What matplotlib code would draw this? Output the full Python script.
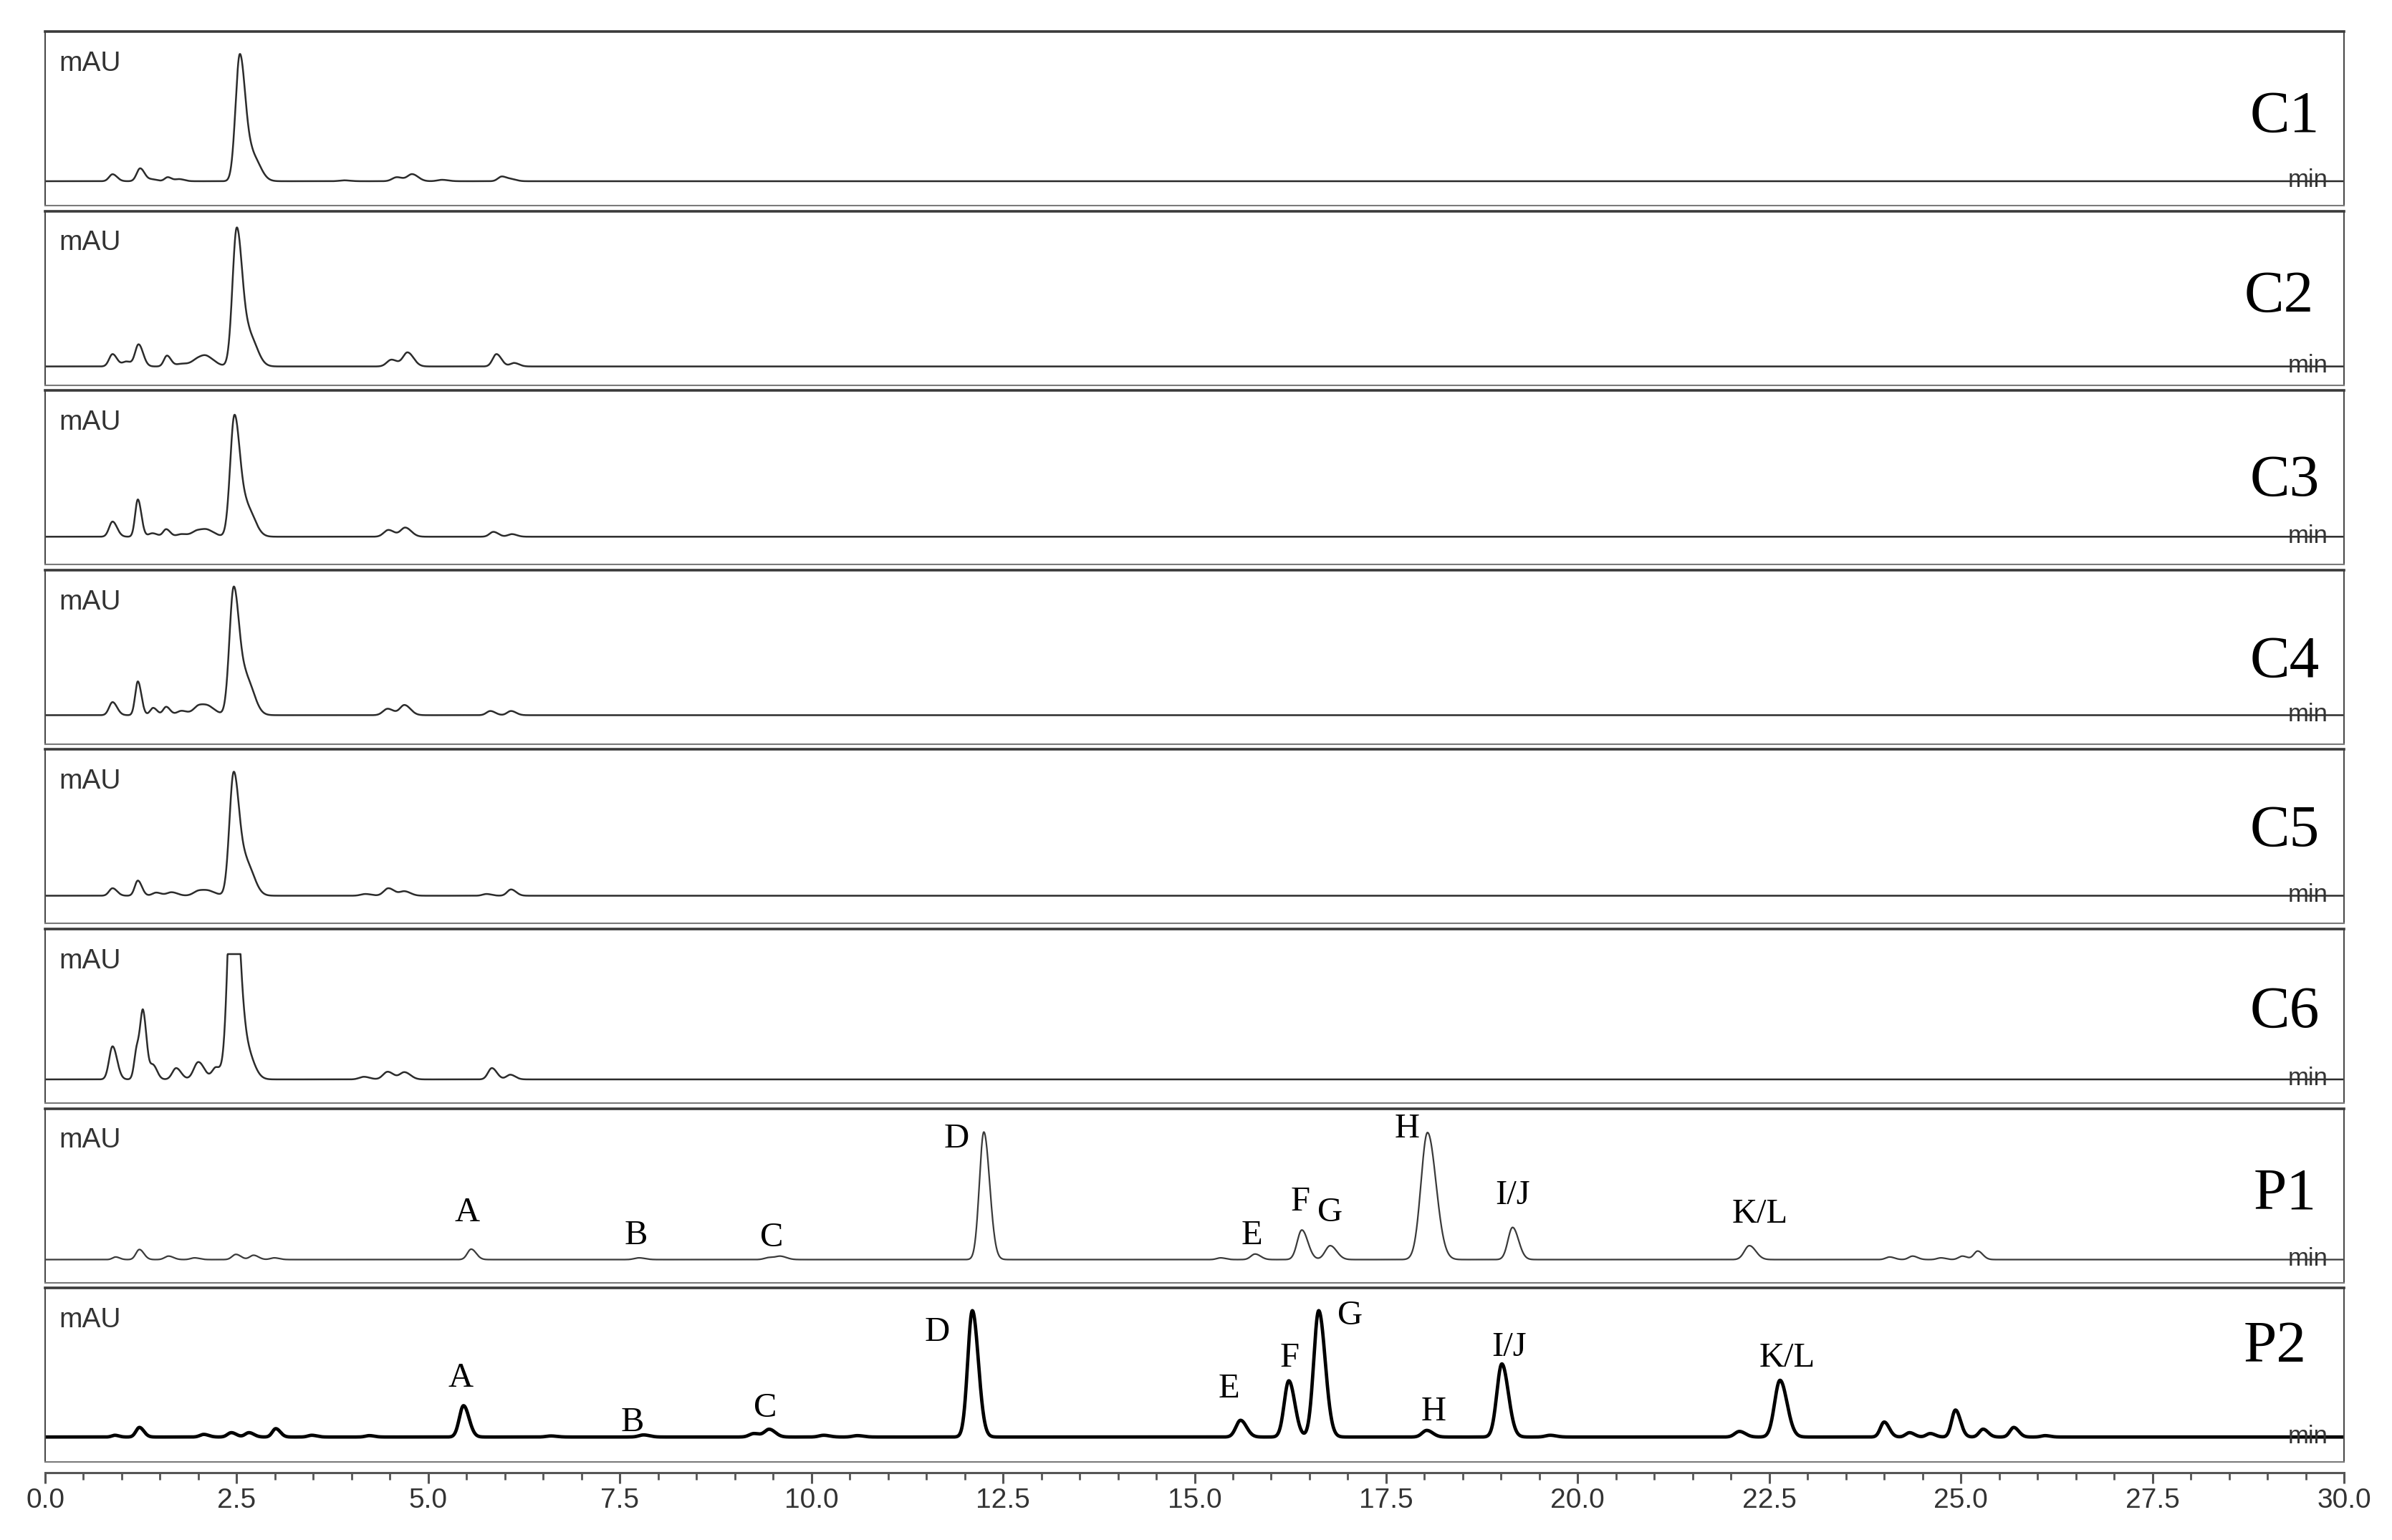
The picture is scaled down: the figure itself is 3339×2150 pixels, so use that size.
import matplotlib.pyplot as plt
import numpy as np
from matplotlib.ticker import FormatStrFormatter, MultipleLocator

# --- data (retention time in min, height in % of panel) ---
samples = ["C1", "C2", "C3", "C4", "C5", "C6", "P1", "P2"]
baselines = [14.0, 10.7, 16.0, 16.6, 16.0, 13.6, 13.2, 14.4]
saturation = [100, 100, 100, 100, 100, 72, 100, 100]

c1_rt = [0.88, 1.24, 1.40, 1.60, 1.75, 2.54, 2.71, 3.90, 4.59, 4.79, 5.18, 5.96, 6.09]
c1_height = [4.0, 7.4, 1.0, 2.3, 1.2, 72.0, 14.0, 0.5, 2.3, 4.0, 0.8, 2.7, 1.0]
c1_width = [0.045, 0.045, 0.05, 0.04, 0.05, 0.055, 0.075, 0.06, 0.06, 0.06, 0.06, 0.05, 0.05]

c2_rt = [0.88, 1.06, 1.22, 1.59, 1.78, 2.00, 2.12, 2.50, 2.67, 4.52, 4.73, 5.89, 6.12]
c2_height = [7.1, 2.8, 12.6, 6.2, 1.5, 4.0, 4.0, 78.5, 17.0, 3.9, 8.0, 7.1, 2.0]
c2_width = [0.045, 0.05, 0.045, 0.04, 0.07, 0.08, 0.08, 0.055, 0.075, 0.06, 0.06, 0.05, 0.05]

c3_rt = [0.88, 1.21, 1.40, 1.58, 1.78, 1.99, 2.13, 2.47, 2.64, 4.48, 4.70, 5.85, 6.09]
c3_height = [8.7, 21.4, 2.0, 4.3, 1.5, 3.5, 3.0, 68.8, 16.0, 3.9, 5.2, 2.8, 1.5]
c3_width = [0.045, 0.035, 0.05, 0.04, 0.06, 0.07, 0.07, 0.055, 0.075, 0.06, 0.06, 0.05, 0.05]

c4_rt = [0.88, 1.21, 1.41, 1.58, 1.78, 2.01, 2.15, 2.46, 2.63, 4.47, 4.69, 5.81, 6.08]
c4_height = [7.5, 19.4, 4.2, 4.8, 2.5, 5.5, 3.5, 72.3, 20.0, 3.7, 5.8, 2.4, 2.4]
c4_width = [0.045, 0.035, 0.04, 0.04, 0.06, 0.07, 0.07, 0.055, 0.075, 0.06, 0.06, 0.05, 0.05]

c5_rt = [0.88, 1.21, 1.45, 1.65, 2.01, 2.15, 2.46, 2.63, 4.18, 4.48, 4.69, 5.76, 6.08]
c5_height = [4.3, 8.7, 1.8, 2.0, 2.9, 2.0, 69.8, 18.0, 1.0, 4.3, 2.5, 1.0, 3.6]
c5_width = [0.045, 0.04, 0.05, 0.06, 0.07, 0.07, 0.055, 0.075, 0.06, 0.06, 0.06, 0.05, 0.05]

c6_rt = [0.88, 1.20, 1.28, 1.41, 1.71, 2.00, 2.23, 2.45, 2.62, 4.16, 4.47, 4.69, 5.83, 6.07]
c6_height = [19.0, 18.0, 36.0, 8.0, 6.5, 10.0, 6.8, 140.0, 17.0, 1.5, 4.4, 4.1, 6.5, 2.7]
c6_width = [0.045, 0.035, 0.035, 0.04, 0.05, 0.06, 0.05, 0.06, 0.075, 0.06, 0.06, 0.06, 0.05, 0.05]

p1_rt = [0.92, 1.23, 1.61, 1.95, 2.49, 2.72, 2.99, 5.56, 7.75, 9.45, 9.60, 12.25,
         15.34, 15.79, 16.40, 16.77, 18.04, 19.15, 22.24, 24.07, 24.37, 24.74, 25.02, 25.22]
p1_height = [1.5, 5.8, 2.0, 1.0, 3.0, 2.5, 1.0, 6.0, 1.0, 1.2, 1.8, 73.3,
             1.0, 3.2, 17.0, 8.0, 73.0, 18.5, 8.0, 1.5, 2.0, 1.0, 2.0, 4.9]
p1_width = [0.04, 0.045, 0.05, 0.05, 0.05, 0.05, 0.05, 0.05, 0.06, 0.06, 0.06, 0.058,
            0.05, 0.055, 0.06, 0.065, 0.085, 0.06, 0.065, 0.05, 0.05, 0.05, 0.05, 0.05]

p2_rt = [0.91, 1.23, 2.07, 2.43, 2.66, 3.01, 3.48, 4.23, 5.46, 6.60, 7.81, 9.25, 9.45,
         10.16, 10.60, 12.10, 15.60, 16.23, 16.62, 18.03, 19.01, 19.64, 22.11, 22.64,
         24.00, 24.33, 24.60, 24.93, 25.29, 25.69, 26.10]
p2_height = [1.0, 5.5, 1.5, 2.5, 2.5, 4.8, 1.0, 0.8, 18.0, 0.6, 1.2, 2.0, 4.4,
             1.0, 0.8, 72.6, 9.6, 32.3, 72.6, 3.8, 42.0, 1.0, 3.2, 32.6,
             8.6, 2.5, 2.0, 15.5, 4.5, 5.5, 0.8]
p2_width = [0.04, 0.045, 0.05, 0.05, 0.05, 0.045, 0.05, 0.05, 0.055, 0.06, 0.06, 0.06, 0.06,
            0.06, 0.06, 0.06, 0.06, 0.06, 0.065, 0.06, 0.065, 0.06, 0.06, 0.07,
            0.05, 0.05, 0.05, 0.05, 0.05, 0.05, 0.05]

peak_rt = [c1_rt, c2_rt, c3_rt, c4_rt, c5_rt, c6_rt, p1_rt, p2_rt]
peak_height = [c1_height, c2_height, c3_height, c4_height, c5_height, c6_height, p1_height, p2_height]
peak_width = [c1_width, c2_width, c3_width, c4_width, c5_width, c6_width, p1_width, p2_width]

# peak letters (label centre: time, height)
p1_labels = ["A", "B", "C", "D", "E", "F", "G", "H", "I/J", "K/L"]
p1_label_x = [5.51, 7.71, 9.48, 11.89, 15.75, 16.38, 16.77, 17.77, 19.15, 22.38]
p1_label_y = [42, 29, 27.5, 84.6, 29, 48, 42, 90, 52, 41]
p2_labels = ["A", "B", "C", "D", "E", "F", "G", "H", "I/J", "K/L"]
p2_label_x = [5.42, 7.66, 9.40, 11.64, 15.45, 16.24, 17.03, 18.12, 19.10, 22.73]
p2_label_y = [50, 24.6, 32.8, 76.6, 43.9, 61.5, 86, 30.7, 67.6, 61.5]

sample_label_x = [29.23, 29.15, 29.23, 29.23, 29.23, 29.23, 29.23, 29.10]
sample_label_y = [54, 54, 51, 50, 56, 55, 54, 69]

TAIL = 1.3
x = np.linspace(0, 30, 9001)


def trace(rt, height, width, clip):
    y = np.zeros_like(x)
    for r, h, w in zip(rt, height, width):
        s = np.where(x < r, w, w * TAIL)
        y += h * np.exp(-0.5 * ((x - r) / s) ** 2)
    return np.minimum(y, clip)


plt.rcParams["font.family"] = ["Liberation Sans", "DejaVu Sans"]
W, H = 3339, 2150
fig = plt.figure(figsize=(W / 100, H / 100), dpi=100)

left = 63 / W
width = (3272 - 63) / W
panel_h = 243
pitch = 250.6
serif = ["Liberation Serif", "DejaVu Serif"]

for i, name in enumerate(samples):
    top_px = 44 + i * pitch
    ax = fig.add_axes([left, 1 - (top_px + panel_h) / H, width, panel_h / H])
    ax.set_xlim(0, 30)
    ax.set_ylim(0, 100)
    ax.set_xticks([])
    ax.set_yticks([])
    for side, sp in ax.spines.items():
        sp.set_color("#4a4a4a")
        sp.set_linewidth(1.5)
    ax.spines["top"].set_linewidth(2.6)
    ax.spines["top"].set_color("#3a3a3a")
    ax.spines["bottom"].set_color("#7a7a7a")

    y = baselines[i] + trace(peak_rt[i], peak_height[i], peak_width[i], saturation[i])
    if name == "P2":
        ax.plot(x, y, color="black", lw=3.4, solid_joinstyle="round")
    elif name == "P1":
        ax.plot(x, y, color="#3a3a3a", lw=1.6)
    else:
        ax.plot(x, y, color="#2b2b2b", lw=1.8)

    ax.text(0.18, 89, "mAU", fontsize=28, color="#333333", va="top", ha="left")
    ax.text(29.53, baselines[i] - 3.5, "min", fontsize=25, color="#333333",
            va="baseline", ha="center")
    ax.text(sample_label_x[i], sample_label_y[i] - 11.5, name, fontsize=60,
            family=serif, color="black", ha="center", va="baseline")

    if name == "P1":
        for lab, lx, ly in zip(p1_labels, p1_label_x, p1_label_y):
            ax.text(lx, ly - 6.8, lab, fontsize=35, family=serif, ha="center", va="baseline")
    if name == "P2":
        for lab, lx, ly in zip(p2_labels, p2_label_x, p2_label_y):
            ax.text(lx, ly - 6.8, lab, fontsize=35, family=serif, ha="center", va="baseline")

# shared time axis
axx = fig.add_axes([left, 1 - 2056 / H, width, 0.0001])
axx.set_facecolor("none")
axx.set_xlim(0, 30)
axx.set_yticks([])
for side in ["top", "left", "right"]:
    axx.spines[side].set_visible(False)
axx.spines["bottom"].set_color("#555555")
axx.spines["bottom"].set_linewidth(2.2)
axx.xaxis.set_major_locator(MultipleLocator(2.5))
axx.xaxis.set_minor_locator(MultipleLocator(0.5))
axx.xaxis.set_major_formatter(FormatStrFormatter("%.1f"))
axx.tick_params(axis="x", which="major", direction="out", length=11, width=2.2,
                color="#555555", labelsize=28, labelcolor="#333333", pad=4)
axx.tick_params(axis="x", which="minor", direction="out", length=7, width=2.0, color="#555555")

fig.savefig("out.png", dpi=100)
